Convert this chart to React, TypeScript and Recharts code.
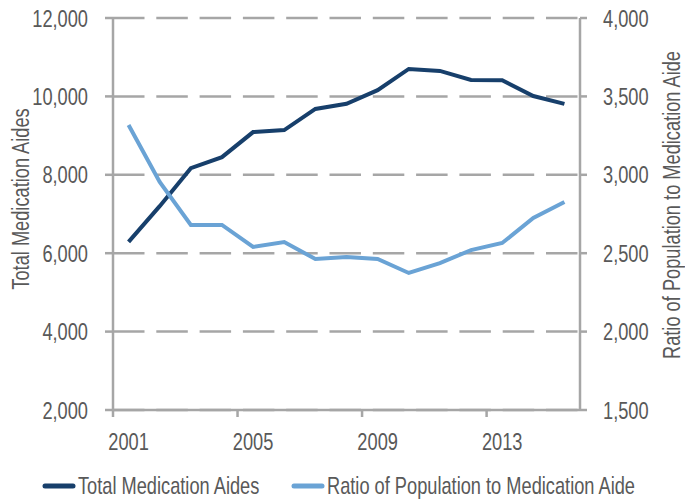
import { CartesianGrid, Legend, Line, LineChart, XAxis, YAxis } from 'recharts'

const years = [2001, 2002, 2003, 2004, 2005, 2006, 2007, 2008, 2009, 2010, 2011, 2012, 2013, 2014, 2015]
const totalAides = [6290, 7200, 8170, 8450, 9090, 9140, 9680, 9810, 10160, 10700, 10650, 10420, 10410, 10010, 9810]
const popRatio = [3318, 2955, 2680, 2680, 2540, 2571, 2463, 2476, 2463, 2374, 2437, 2520, 2565, 2725, 2827]
const leftTicks = [2000, 4000, 6000, 8000, 10000, 12000]
const rightTicks = [1500, 2000, 2500, 3000, 3500, 4000]
const yearLabels = [2001, 2005, 2009, 2013]
const seriesNames = ['Total Medication Aides', 'Ratio of Population to Medication Aide']

const WIDTH = 685
const HEIGHT = 499
const LEFT_W = 113
const RIGHT_W = 105
const TEXT = '#595959'
const AXIS = '#a6a6a6'
const DARK = '#173f6b'
const LIGHT = '#6aa3d5'
const FONT = '"Liberation Sans", Arial, sans-serif'
const FS = 24
const SQUEEZE = 0.76 // the original face is a condensed sans

// half of one category slot: labels sit in the middle of the slot, ticks on its edge
const HALF = (WIDTH - LEFT_W - RIGHT_W) / years.length / 2

const data = years.map((year, i) => ({ year, aides: totalAides[i], ratio: popRatio[i] }))

function Narrow({ x, y, anchor = 'start', angle = 0, children }: any) {
  return (
    <text
      transform={`translate(${x},${y}) rotate(${angle}) scale(${SQUEEZE},1)`}
      textAnchor={anchor}
      fill={TEXT}
      fontSize={FS}
      fontFamily={FONT}
    >
      {children}
    </text>
  )
}

const fmt = (v: number) => v.toLocaleString('en-US')

function YearTick({ x, y, payload }: any) {
  return <Narrow x={x + HALF} y={y + 33} anchor="middle">{payload.value + 0.5}</Narrow>
}

function NumTick({ x, y, payload, textAnchor }: any) {
  return <Narrow x={x} y={y + 8.6} anchor={textAnchor}>{fmt(payload.value)}</Narrow>
}

function LegendContent() {
  const colors = [DARK, LIGHT]
  const starts = [43, 292]
  return (
    <svg width={WIDTH} height={30} style={{ display: 'block' }}>
      {seriesNames.map((name, i) => (
        <g key={name}>
          <line x1={starts[i] + 2} x2={starts[i] + 30} y1={17} y2={17} stroke={colors[i]} strokeWidth={5} strokeLinecap="round" />
          <Narrow x={starts[i] + 35} y={25}>{name}</Narrow>
        </g>
      ))}
    </svg>
  )
}

export default function App() {
  return (
    <div style={{ position: 'absolute', left: 0, top: 0, width: WIDTH, height: HEIGHT, fontFamily: FONT, background: '#fff' }}>
      <LineChart width={WIDTH} height={HEIGHT} data={data} margin={{ top: 18, right: 0, bottom: 0, left: 0 }}>
        <CartesianGrid
          yAxisId="left"
          vertical={false}
          stroke={AXIS}
          strokeWidth={2.5}
          strokeDasharray="31.5 11.8"
        />
        <XAxis
          dataKey="year"
          type="number"
          domain={[2000.5, 2015.5]}
          ticks={yearLabels.map((y) => y - 0.5)}
          tick={<YearTick />}
          tickSize={7}
          tickMargin={0}
          height={59}
          stroke={AXIS}
          strokeWidth={2.5}
          interval={0}
        />
        <YAxis
          yAxisId="left"
          domain={[2000, 12000]}
          ticks={leftTicks}
          width={LEFT_W}
          tickSize={8}
          tickMargin={17}
          tick={<NumTick />}
          stroke={AXIS}
          strokeWidth={2.5}
          interval={0}
          label={({ viewBox }: any) => (
            <Narrow x={viewBox.x + 29} y={viewBox.y + viewBox.height / 2 - 15} anchor="middle" angle={-90}>
              {seriesNames[0]}
            </Narrow>
          )}
        />
        <YAxis
          yAxisId="right"
          orientation="right"
          domain={[1500, 4000]}
          ticks={rightTicks}
          width={RIGHT_W}
          tickSize={7}
          tickMargin={16}
          tick={<NumTick />}
          stroke={AXIS}
          strokeWidth={2.5}
          interval={0}
          label={({ viewBox }: any) => (
            <Narrow x={viewBox.x + 100} y={viewBox.y + viewBox.height / 2 - 9} anchor="middle" angle={-90}>
              {seriesNames[1]}
            </Narrow>
          )}
        />
        <Legend verticalAlign="bottom" height={30} content={<LegendContent />} />
        <Line
          yAxisId="left"
          dataKey="aides"
          name={seriesNames[0]}
          stroke={DARK}
          strokeWidth={4}
          dot={false}
          isAnimationActive={false}
        />
        <Line
          yAxisId="right"
          dataKey="ratio"
          name={seriesNames[1]}
          stroke={LIGHT}
          strokeWidth={4}
          dot={false}
          isAnimationActive={false}
        />
      </LineChart>
    </div>
  )
}
